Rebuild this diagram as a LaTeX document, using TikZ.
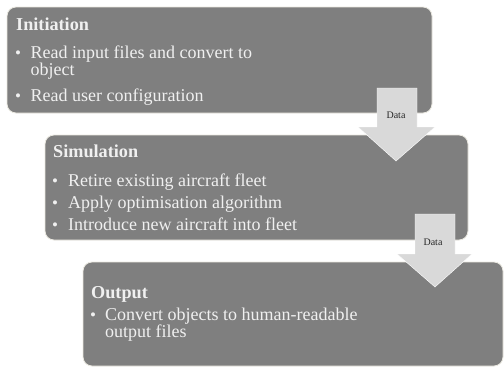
\documentclass[tikz,border=0pt]{standalone}
\usepackage{fontspec}
\setmainfont{Liberation Serif}
\definecolor{boxgray}{HTML}{7F7F7F}
\definecolor{boxedge}{HTML}{ECEAE2}
\definecolor{arrowgray}{HTML}{D9D9D9}
\definecolor{txtlight}{HTML}{F0F0F0}
\definecolor{datatxt}{HTML}{262626}
\begin{document}
\begin{tikzpicture}[x=1pt,y=-1pt,
  stage/.style={draw=boxedge,line width=0.8pt,fill=boxgray,rounded corners=9pt,inner sep=0pt},
  head/.style={anchor=base west,inner sep=0pt,text=txtlight,font=\fontsize{18.2}{20}\selectfont\bfseries},
  item/.style={anchor=base west,inner sep=0pt,text=txtlight,font=\fontsize{18}{20}\selectfont},
  bul/.style={anchor=base,inner sep=0pt,text=txtlight,font=\fontsize{17}{18}\selectfont},
  flow/.style={fill=arrowgray,draw=white,line width=0.4pt},
  datalbl/.style={inner sep=0pt,text=datatxt,font=\fontsize{10}{11}\selectfont}]
\useasboundingbox (0,0) rectangle (504,367);
\fill[white] (0,0) rectangle (504,367);
% boxes
\node[stage,minimum width=425pt,minimum height=106pt] (b1) at (219.5,60) {};
\node[stage,minimum width=423pt,minimum height=105pt] (b2) at (256.5,187.5) {};
\node[stage,minimum width=420pt,minimum height=104pt] (b3) at (293,314) {};
% arrows
\coordinate (a1top) at (397,88);
\coordinate (a2top) at (435,214);
\draw[flow] (a1top) ++(-20,0) -- ++(0,39) -- ++(-19,0) -- (396,161) -- (435,127) -- ++(-18,0) -- ++(0,-39) -- cycle;
\draw[flow] (a2top) ++(-20,0) -- ++(0,40) -- ++(-18,0) -- (435,287) -- (472,254) -- ++(-17,0) -- ++(0,-40) -- cycle;
\node[datalbl] (d1) at (396,115) {Data};
\node[datalbl] (d2) at (433,242) {Data};
% Initiation text
\node[head] (h1) at (16,30) {Initiation};
\node[bul] (p11) at (18,58) {•};
\node[item] (t11) at (30.5,58) {Read input files and convert to};
\node[item] (t11b) at (30.5,75) {object};
\node[bul] (p12) at (18,101) {•};
\node[item] (t12) at (30.5,101) {Read user configuration};
% Simulation text
\node[head] (h2) at (53,157) {Simulation};
\node[bul] (p21) at (55,186) {•};
\node[item] (t21) at (68,186) {Retire existing aircraft fleet};
\node[bul] (p22) at (55,208) {•};
\node[item] (t22) at (68,208) {Apply optimisation algorithm};
\node[bul] (p23) at (55,230) {•};
\node[item] (t23) at (68,230) {Introduce new aircraft into fleet};
% Output text
\node[head] (h3) at (91,298) {Output};
\node[bul] (p31) at (93,320) {•};
\node[item] (t31) at (105,320) {Convert objects to human-readable};
\node[item] (t31b) at (105,337) {output files};
\end{tikzpicture}
\end{document}
